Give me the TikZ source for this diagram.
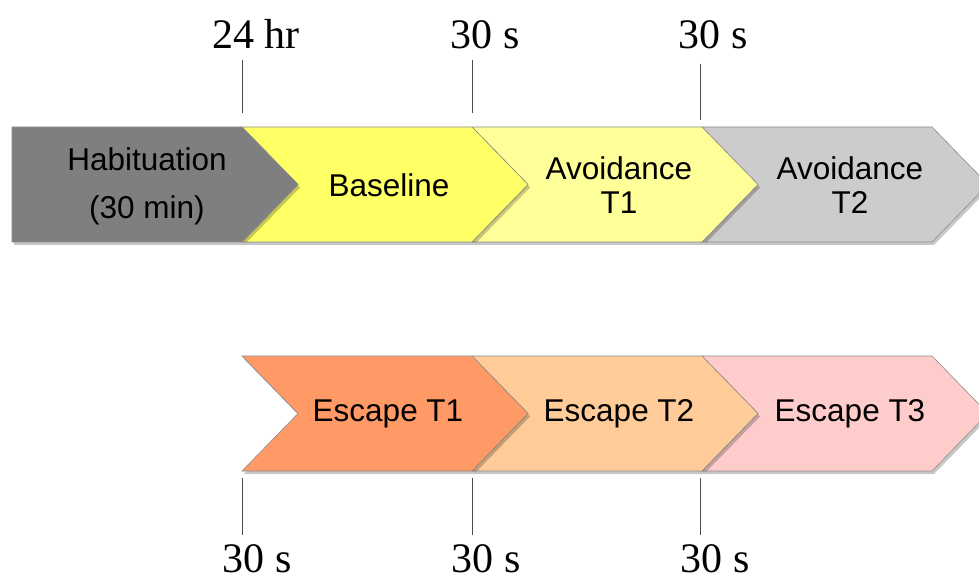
\documentclass[tikz,border=0pt]{standalone}
\usepackage{fontspec}
\setmainfont{Liberation Serif}
\newfontfamily\arialf{Liberation Sans}
\usetikzlibrary{calc}
\newcommand{\mychev}[4]{% left, top, fill colour, notched (1/0)
  \fill[black, opacity=0.22] ([shift={(2,3)}]#1,#2) -- ++(230,0) -- ++(56,57.5) -- ++(-56,57.5) -- ++(-230,0) \ifnum#4=1 -- ++(56,-57.5)\fi -- cycle;
  \filldraw[fill=#3, draw=black!45, line width=0.6pt] (#1,#2) -- ++(230,0) -- ++(56,57.5) -- ++(-56,57.5) -- ++(-230,0) \ifnum#4=1 -- ++(56,-57.5)\fi -- cycle;
}
\definecolor{habc}{HTML}{7F7F7F}
\definecolor{basec}{HTML}{FFFF66}
\definecolor{avoa}{HTML}{FFFF99}
\definecolor{avob}{HTML}{CCCCCC}
\definecolor{esca}{HTML}{FF9966}
\definecolor{escb}{HTML}{FFCC99}
\definecolor{escc}{HTML}{FFCCCC}
\tikzset{
  x=1pt, y=-1pt,
  chevtext/.style={font=\arialf\fontsize{31.5}{34}\selectfont, align=center, inner sep=0pt, text=black},
  timelabel/.style={font=\fontsize{42}{42}\selectfont, inner sep=0pt, anchor=base},
  tick/.style={draw=black!70, line width=0.8pt}
}
\begin{document}
\begin{tikzpicture}
\useasboundingbox (0,0) rectangle (979,577);
\clip (0,0) rectangle (979,577);
% top row (drawn right to left so shadows fall on the next shape)
\mychev{702}{127}{avob}{1}
\mychev{472}{127}{avoa}{1}
\mychev{242}{127}{basec}{1}
\mychev{12}{127}{habc}{0}
% bottom row
\mychev{702}{356}{escc}{1}
\mychev{472}{356}{escb}{1}
\mychev{242}{356}{esca}{1}
% texts
\node[chevtext, font=\arialf\fontsize{31.5}{48}\selectfont] (hab) at (147,186) {Habituation\\(30 min)};
\node[chevtext] (base) at (389,185) {Baseline};
\node[chevtext] (av1) at (619,185) {Avoidance\\T1};
\node[chevtext] (av2) at (850,185) {Avoidance\\T2};
\node[chevtext] (es1) at (388,414) {Escape T1};
\node[chevtext] (es2) at (619,414) {Escape T2};
\node[chevtext] (es3) at (850,414) {Escape T3};
% time labels
\node[timelabel] (t1) at (256,49) {24 hr};
\node[timelabel] (t2) at (485,49) {30 s};
\node[timelabel] (t3) at (713,49) {30 s};
\node[timelabel] (b1) at (257,572) {30 s};
\node[timelabel] (b2) at (486,572) {30 s};
\node[timelabel] (b3) at (715,572) {30 s};
% ticks
\coordinate (t1a) at (242,60); \coordinate (t1b) at (242,113);
\coordinate (t2a) at (472,60); \coordinate (t2b) at (472,113);
\coordinate (t3a) at (700,64); \coordinate (t3b) at (700,120);
\coordinate (b1a) at (242,478); \coordinate (b1b) at (242,535);
\coordinate (b2a) at (472,478); \coordinate (b2b) at (472,535);
\coordinate (b3a) at (700,478); \coordinate (b3b) at (700,535);
\draw[tick] (t1a) -- (t1b);
\draw[tick] (t2a) -- (t2b);
\draw[tick] (t3a) -- (t3b);
\draw[tick] (b1a) -- (b1b);
\draw[tick] (b2a) -- (b2b);
\draw[tick] (b3a) -- (b3b);
\end{tikzpicture}
\end{document}
